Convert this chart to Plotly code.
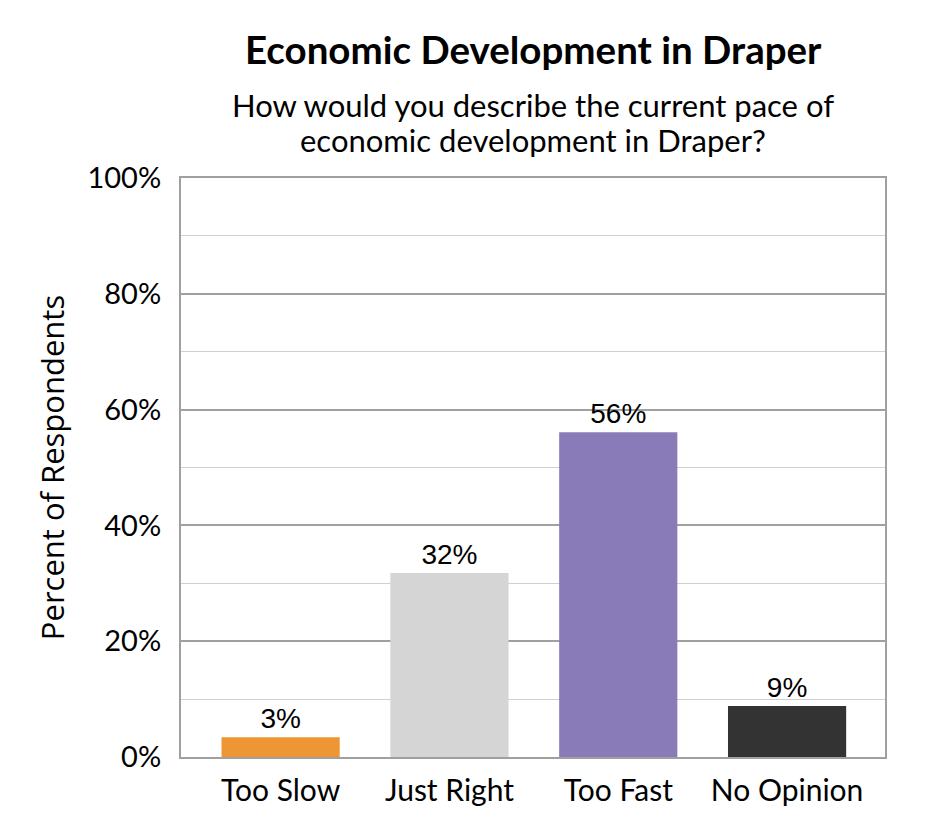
import plotly.graph_objects as go

# Survey data
categories = ["Too Slow", "Just Right", "Too Fast", "No Opinion"]
percents = [3.4, 31.8, 56.1, 8.8]
labels = ["3%", "32%", "56%", "9%"]
colors = ["#EE9534", "#D5D5D5", "#897BB7", "#333333"]
y_ticks = [0, 20, 40, 60, 80, 100]
y_tick_labels = ["0%", "20%", "40%", "60%", "80%", "100%"]

title = "Economic Development in Draper"
subtitle = ["How would you describe the current pace of", "economic development in Draper?"]

fig = go.Figure()
fig.add_trace(go.Bar(
    x=categories, y=percents, marker_color=colors, marker_line_width=0,
    text=labels, textposition="outside", cliponaxis=False,
    textfont=dict(family="Liberation Sans, Arial", size=28, color="#000"),
))

fig.update_layout(
    width=945, height=840,
    margin=dict(l=173, r=68, t=170, b=91),
    paper_bgcolor="white", plot_bgcolor="white",
    bargap=0.3, showlegend=False,
    font=dict(family="Lato, Calibri, sans-serif", color="#000"),
)

# title and two-line question, placed in pixels above the plot box
fig.add_annotation(text="<b>" + title + "</b>", x=0.5, xref="paper", y=1.0, yref="paper",
                   yanchor="middle", yshift=129, showarrow=False, font=dict(size=38.5))
for i, line in enumerate(subtitle):
    fig.add_annotation(text=line, x=0.5, xref="paper", y=1.0, yref="paper",
                       yanchor="middle", yshift=73 - 35 * i, showarrow=False, font=dict(size=31))

fig.update_xaxes(range=[-0.59, 3.58], showline=True, linecolor="#A0A0A0", linewidth=2, mirror=True,
                 tickfont=dict(size=30), ticks="", ticklabelstandoff=6, fixedrange=True)
fig.update_yaxes(range=[0, 100], tickvals=y_ticks, ticktext=y_tick_labels,
                 showline=True, linecolor="#A0A0A0", linewidth=2, mirror=True,
                 showgrid=True, gridcolor="#A0A0A0", gridwidth=2,
                 minor=dict(dtick=10, showgrid=True, gridcolor="#D0D0D0", gridwidth=1),
                 tickfont=dict(size=29), ticklabelstandoff=12,
                 title=dict(text="Percent of Respondents", font=dict(family="Open Sans", size=31),
                            standoff=14),
                 zeroline=False, ticks="")

fig.write_html("out.html")
